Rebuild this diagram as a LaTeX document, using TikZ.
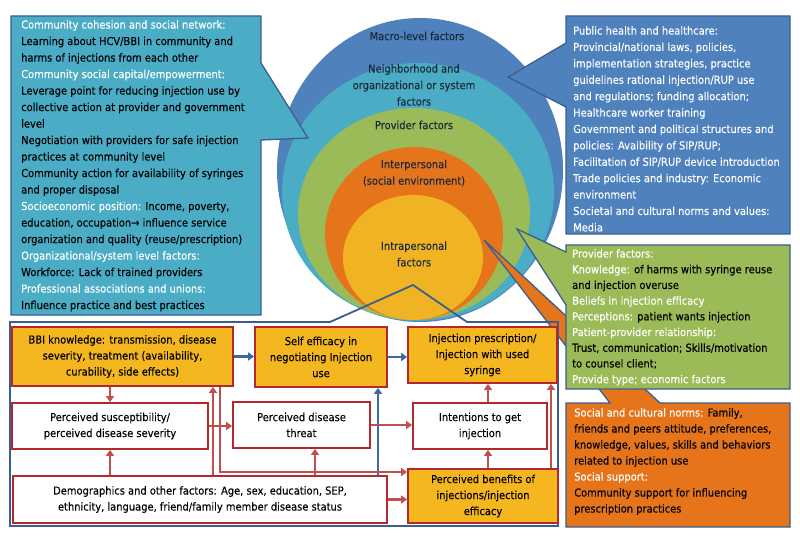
\documentclass[tikz,border=0pt]{standalone}
\usepackage{fontspec}
\setmainfont{DejaVu Sans}[FakeStretch=0.9,FakeBold=0.15]
\usetikzlibrary{arrows.meta}
\definecolor{cmacro}{HTML}{4F81BD}
\definecolor{cteal}{HTML}{4BACC6}
\definecolor{cgreen}{HTML}{9BBB59}
\definecolor{corange}{HTML}{E5741A}
\definecolor{cyellow}{HTML}{F0B323}
\definecolor{cbox}{HTML}{F4B71F}
\definecolor{cedge}{HTML}{3A5F8F}
\definecolor{cred}{HTML}{B3282D}
\definecolor{carrow}{HTML}{C0504D}
\definecolor{cbarrow}{HTML}{3C69A0}
\definecolor{ctxt}{HTML}{1B2A3A}
\newcommand{\hd}[1]{\textcolor{white}{#1}}
\newcommand{\fsz}{\fontsize{11}{16.5}\selectfont}
\begin{document}
\begin{tikzpicture}[x=1pt,y=-1pt,
  lbl/.style={font=\fsz, text=ctxt, align=center, inner sep=0pt},
  ctext/.style={font=\fsz, text=black, align=left, inner sep=0pt, anchor=north west},
  callout/.style={draw=cedge, line width=1.3pt, line join=miter},
  rbox/.style={draw=cred, line width=1.8pt, align=center, font=\fontsize{11}{16}\selectfont, inner sep=0pt, text=black},
  ybox/.style={rbox, fill=cbox},
  wbox/.style={rbox, fill=white},
  rarr/.style={draw=carrow, line width=2.4pt, -{Triangle[length=6pt,width=8pt]}},
  barr/.style={draw=cbarrow, line width=2.4pt, -{Triangle[length=6pt,width=8pt]}}
]
\useasboundingbox (0,0) rectangle (800,537);
\fill[white] (0,0) rectangle (800,537);

% nested circles
\fill[cmacro] (420,170) ellipse [x radius=143, y radius=152];
\fill[cteal] (418,192) ellipse [x radius=136, y radius=129];
\fill[cgreen] (414,214) ellipse [x radius=116, y radius=106];
\fill[corange] (414,233.5) ellipse [x radius=89, y radius=86.5];
\fill[cyellow] (413,257.5) ellipse [x radius=70, y radius=62.5];

\node[lbl] (lmacro) at (417,36) {Macro-level factors};
\node[lbl] (lneigh) at (414,85) {Neighborhood and\\organizational or system\\factors};
\node[lbl] (lprov) at (414,125) {Provider factors};
\node[lbl] (linter) at (414,173) {Interpersonal\\(social environment)};
\node[lbl] (lintra) at (414,254) {Intrapersonal\\factors};

% left teal callout
\path[callout, fill=cteal] (11,16) -- (261,16) -- (261,63) -- (308,138) -- (261,140) -- (261,315) -- (11,315) -- cycle;
\node[ctext] (tealtxt) at (21,20) {\hd{Community cohesion and social network:}\\
Learning about HCV/BBI in community and\\
harms of injections from each other\\
\hd{Community social capital/empowerment:}\\
Leverage point for reducing injection use by\\
collective action at provider and government\\
level\\
Negotiation with providers for safe injection\\
practices at community level\\
Community action for availability of syringes\\
and proper disposal\\
\hd{Socioeconomic position:} Income, poverty,\\
education, occupation→ influence service\\
organization and quality (reuse/prescription)\\
\hd{Organizational/system level factors:}\\
Workforce: Lack of trained providers\\
\hd{Professional associations and unions:}\\
Influence practice and best practices};

% right blue callout
\path[callout, fill=cmacro] (566,16) -- (790,16) -- (790,234) -- (566,234) -- (566,107) -- (508,77) -- (566,43) -- cycle;
\node[ctext, text=white, font=\fontsize{11}{16.4}\selectfont] (bluetxt) at (573,26) {Public health and healthcare:\\
Provincial/national laws, policies,\\
implementation strategies, practice\\
guidelines rational injection/RUP use\\
and regulations; funding allocation;\\
Healthcare worker training\\
Government and political structures and\\
policies: Avaibility of SIP/RUP;\\
Facilitation of SIP/RUP device introduction\\
Trade policies and industry: Economic\\
environment\\
Societal and cultural norms and values:\\
Media};

% orange callout
\path[callout, fill=corange] (566,403) -- (610,403) -- (484,240) -- (660,403) -- (790,403) -- (790,527) -- (566,527) -- cycle;
\node[ctext, font=\fontsize{11}{16}\selectfont] (orgtxt) at (574,408) {\hd{Social and cultural norms:} Family,\\
friends and peers attitude, preferences,\\
knowledge, values, skills and behaviors\\
related to injection use\\
\hd{Social support:}\\
Community support for influencing\\
prescription practices};

% green callout
\path[callout, fill=cgreen] (566,245) -- (790,245) -- (790,389) -- (566,389) -- (566,305) -- (517,229) -- (566,252) -- cycle;
\node[ctext, font=\fontsize{11}{15.7}\selectfont] (grntxt) at (572,249) {\hd{Provider factors:}\\
\hd{Knowledge:} of harms with syringe reuse\\
and injection overuse\\
\hd{Beliefs in injection efficacy}\\
\hd{Perceptions:} patient wants injection\\
\hd{Patient-provider relationship:}\\
Trust, communication; Skills/motivation\\
to counsel client;\\
\hd{Provide type; economic factors}};

% bottom frame with pointer
\draw[draw=cedge, line width=1.8pt, line join=miter] (10,322) -- (330,322) -- (413,285) -- (467,322) -- (558,322) -- (558,526) -- (10,526) -- cycle;

% boxes
\node[ybox, minimum width=221pt, minimum height=59pt] (bbi) at (122.5,356.5) {BBI knowledge: transmission, disease\\severity, treatment (availability,\\curability, side effects)};
\node[ybox, minimum width=132pt, minimum height=60pt] (self) at (321,357) {Self efficacy in\\negotiating Injection\\use};
\node[ybox, minimum width=149pt, minimum height=56pt] (inj) at (482.5,355) {Injection prescription/\\Injection with used\\syringe};
\node[wbox, minimum width=196pt, minimum height=46pt] (susc) at (110,426) {Perceived susceptibility/\\perceived disease severity};
\node[wbox, minimum width=137pt, minimum height=46pt] (threat) at (301.5,425) {Perceived disease\\threat};
\node[wbox, minimum width=134pt, minimum height=46pt] (intent) at (480,426) {Intentions to get\\injection};
\node[wbox, minimum width=374pt, minimum height=47pt] (demo) at (200,499.5) {Demographics and other factors: Age, sex, education, SEP,\\ethnicity, language, friend/family member disease status};
\node[ybox, minimum width=150pt, minimum height=54pt] (benef) at (483,496) {Perceived benefits of\\injections/injection\\efficacy};

% helper coordinates
\coordinate (vx1) at (213,0);
\coordinate (vx2) at (220,0);
\coordinate (vx3) at (315,0);
\coordinate (vx4) at (488,0);
\coordinate (vx5) at (551,0);
\coordinate (vx6) at (378,0);
\coordinate (hy) at (0,472);

% arrows
\draw[barr] (bbi.east) -- (bbi.east -| self.west);
\draw[barr] (self.east) -- (self.east -| inj.west);
\draw[barr] (demo.north -| vx6) -- (self.south -| vx6);
\draw[rarr] (susc.north |- bbi.south) -- (susc.north);
\draw[rarr] (susc.south |- demo.north) -- (susc.south);
\draw[rarr] (demo.north -| vx1) -- (bbi.south -| vx1);
\draw[rarr] (bbi.south -| vx2) |- (benef.west |- hy);
\draw[rarr] (susc.east) -- (susc.east -| threat.west);
\draw[rarr] (demo.north -| vx3) -- (threat.south -| vx3);
\draw[rarr] (threat.east) -- (threat.east -| intent.west);
\draw[rarr] (benef.north -| vx4) -- (intent.south -| vx4);
\draw[rarr] (intent.north -| vx4) -- (inj.south -| vx4);
\draw[rarr] (benef.north -| vx5) -- (inj.south -| vx5);
\draw[rarr] (demo.east) -- (demo.east -| benef.west);
\end{tikzpicture}
\end{document}
